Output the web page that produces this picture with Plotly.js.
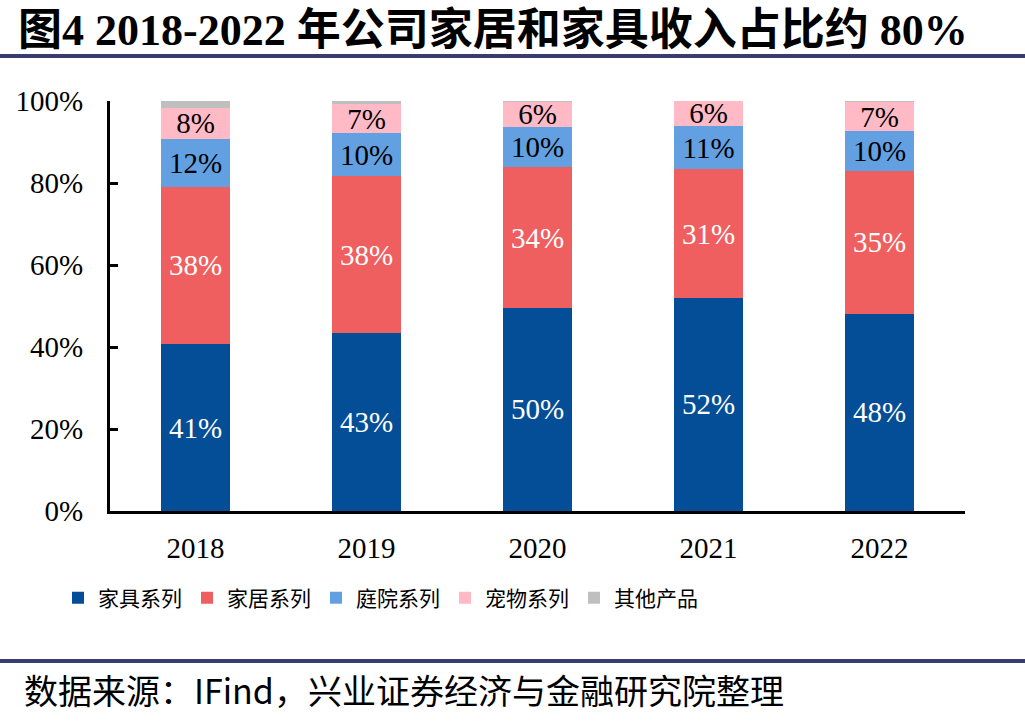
<!DOCTYPE html>
<html>
<head>
<meta charset="utf-8">
<script src="https://cdn.plot.ly/plotly-3.0.1.min.js"></script>
<style>
  html, body { margin: 0; padding: 0; background: #ffffff; }
  #chart { width: 1025px; height: 722px; }
</style>
</head>
<body>
<div id="chart"></div>
<script>
// Revenue mix by product line, share of total (%)
const years = ['2018', '2019', '2020', '2021', '2022'];
const seriesNames = ['家具系列', '家居系列', '庭院系列', '宠物系列', '其他产品'];
const furniture = [40.7, 43.3, 49.6, 52.0, 48.1];
const homeGoods = [38.4, 38.4, 34.2, 31.3, 34.8];
const garden = [11.7, 10.4, 9.9, 10.7, 9.7];
const pet = [7.6, 7.1, 6.1, 6.0, 7.2];
const other = [1.6, 0.8, 0.2, 0.0, 0.2];
const yTicks = [0, 20, 40, 60, 80, 100];

const colors = ['#034e96', '#ef5f60', '#62a0e2', '#ffbac6', '#bfbfbf'];
const labelColors = ['#ffffff', '#ffffff', '#000000', '#000000', '#000000'];
const seriesValues = [furniture, homeGoods, garden, pet, other];

const SERIF = '"Liberation Serif", "Times New Roman", "Noto Sans CJK SC", serif';
const CJK = '"Noto Sans CJK SC", "Liberation Serif", sans-serif';

const traces = seriesValues.map((vals, i) => ({
  type: 'bar',
  name: seriesNames[i],
  x: years,
  y: vals,
  marker: { color: colors[i], line: { width: 0 } },
  texttemplate: i < 4 ? '%{y:.0f}%' : '',
  textposition: i < 4 ? 'inside' : 'none',
  insidetextanchor: 'middle',
  textangle: 0,
  constraintext: 'none',
  insidetextfont: { family: SERIF, size: 29, color: labelColors[i] },
  hoverinfo: 'skip'
}));

// Plot-area geometry used to place the header and footer rules in paper units
const plotLeft = 110, plotRight = 965, plotTop = 101, plotBottom = 511;
const pw = plotRight - plotLeft, ph = plotBottom - plotTop;
const px = v => (v - plotLeft) / pw;
const py = v => (plotBottom - v) / ph;

const layout = {
  width: 1025,
  height: 722,
  paper_bgcolor: '#ffffff',
  plot_bgcolor: '#ffffff',
  barmode: 'stack',
  bargap: 0.6,
  margin: { l: plotLeft, r: 1025 - plotRight, t: plotTop, b: 722 - plotBottom, pad: 0 },
  showlegend: true,
  title: {
    text: '<b>图4 2018-2022 年公司家居和家具收入占比约 80%</b>',
    font: { family: SERIF, size: 44, color: '#000000' },
    xref: 'container', x: 18 / 1025, xanchor: 'left',
    yref: 'container', y: 1 - 30 / 722, yanchor: 'middle'
  },
  xaxis: {
    type: 'category',
    showline: true,
    linecolor: '#000000',
    linewidth: 3,
    ticks: '',
    showgrid: false,
    zeroline: false,
    tickfont: { family: SERIF, size: 29, color: '#000000' },
    ticklabelstandoff: 9,
    fixedrange: true
  },
  yaxis: {
    range: [0, 100],
    tickvals: yTicks,
    ticktext: yTicks.map(v => v + '%'),
    showline: true,
    linecolor: '#000000',
    linewidth: 3,
    ticks: 'inside',
    ticklen: 8,
    tickwidth: 3,
    tickcolor: '#000000',
    showgrid: false,
    zeroline: false,
    tickfont: { family: SERIF, size: 29, color: '#000000' },
    ticklabelstandoff: 18,
    fixedrange: true
  },
  legend: {
    orientation: 'h',
    x: px(58), xanchor: 'left',
    y: py(598), yanchor: 'middle',
    font: { family: CJK, size: 21, color: '#000000' },
    traceorder: 'normal',
    bgcolor: 'rgba(0,0,0,0)',
    borderwidth: 0
  },
  shapes: [
    {
      type: 'line', xref: 'paper', yref: 'paper',
      x0: px(0), x1: px(1025), y0: py(56), y1: py(56),
      line: { color: '#3a3c70', width: 4 }
    },
    {
      type: 'line', xref: 'paper', yref: 'paper',
      x0: px(0), x1: px(1025), y0: py(661), y1: py(661),
      line: { color: '#3a3c70', width: 4 }
    }
  ],
  annotations: [
    {
      text: '数据来源：IFind，兴业证券经济与金融研究院整理',
      xref: 'paper', yref: 'paper',
      x: px(22), xanchor: 'left',
      y: py(689), yanchor: 'middle',
      showarrow: false,
      font: { family: CJK, size: 34, color: '#000000' }
    }
  ]
};

Plotly.newPlot('chart', traces, layout, { displayModeBar: false, staticPlot: true });
</script>
</body>
</html>
